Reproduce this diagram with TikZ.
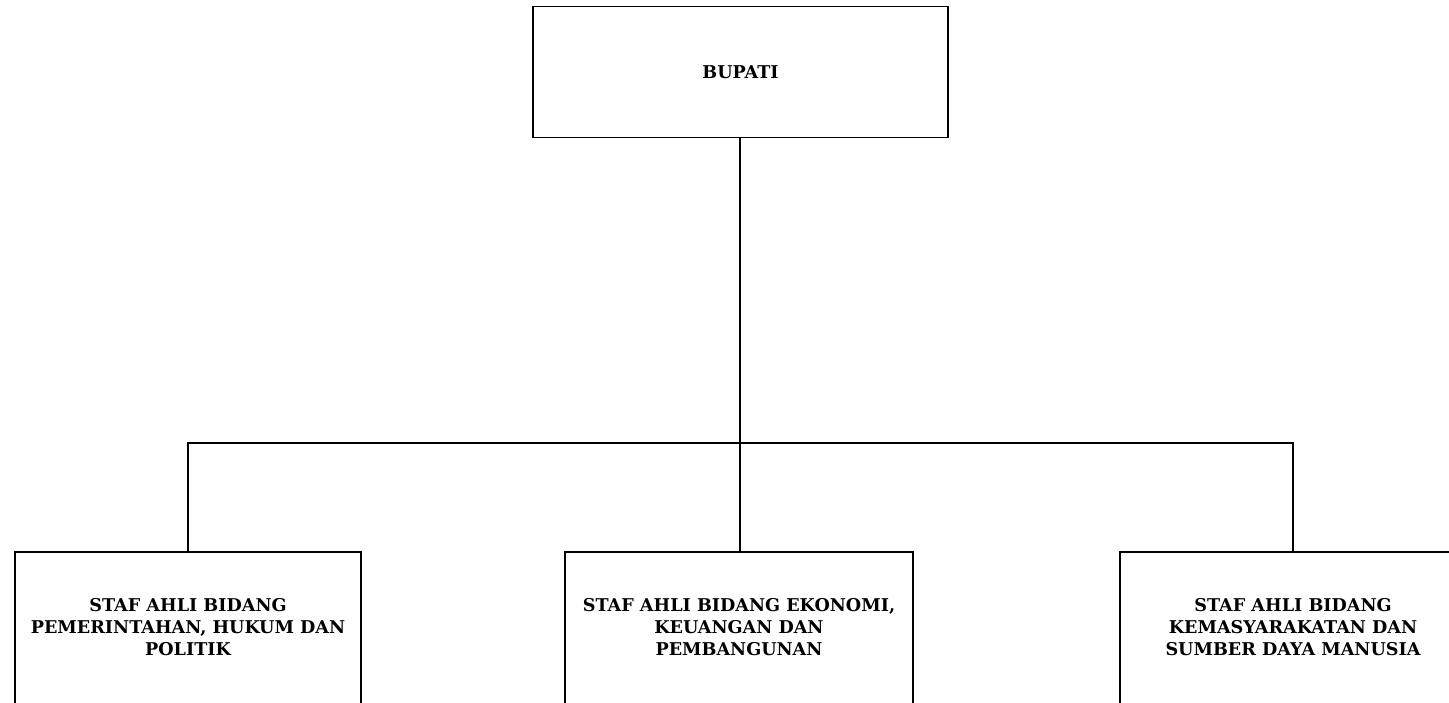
\documentclass[tikz,border=0pt]{standalone}
\usepackage{fontspec}
\setmainfont{DejaVu Serif}
\begin{document}
\begin{tikzpicture}[x=1pt,y=-1pt,
  unitbox/.style={draw, rectangle, line width=1.8pt, inner sep=0pt},
  caption/.style={align=center, inner sep=0pt,
    font=\bfseries\fontsize{17.6}{22}\selectfont},
  link/.style={draw, line width=1.8pt}]
\useasboundingbox (0,0) rectangle (1449,702);
\clip (0,0) rectangle (1449,702);
% head box
\node[unitbox, minimum width=415pt, minimum height=131pt] (bupati) at (740.5,72) {};
\node[caption] (tb) at (bupati.center) {BUPATI};
% staff boxes (their lower part runs past the bottom edge)
\node[unitbox, minimum width=346pt, minimum height=180pt] (s1) at (188,642) {};
\node[unitbox, minimum width=348pt, minimum height=180pt] (s2) at (739,642) {};
\node[unitbox, minimum width=346pt, minimum height=180pt] (s3) at (1293,642) {};
\node[caption] (t1) at (188,627)
  {STAF AHLI BIDANG\\PEMERINTAHAN, HUKUM DAN\\POLITIK};
\node[caption] (t2) at (739,627)
  {STAF AHLI BIDANG EKONOMI,\\KEUANGAN DAN\\PEMBANGUNAN};
\node[caption] (t3) at (1293,627)
  {STAF AHLI BIDANG\\KEMASYARAKATAN DAN\\SUMBER DAYA MANUSIA};
% connectors
\coordinate (hub) at (740,443);
\draw[link] (bupati.south -| hub) -- (hub);
\draw[link] (s1.north) |- (hub) -| (s3.north);
\draw[link] (hub) -- (hub |- s2.north);
\end{tikzpicture}
\end{document}
